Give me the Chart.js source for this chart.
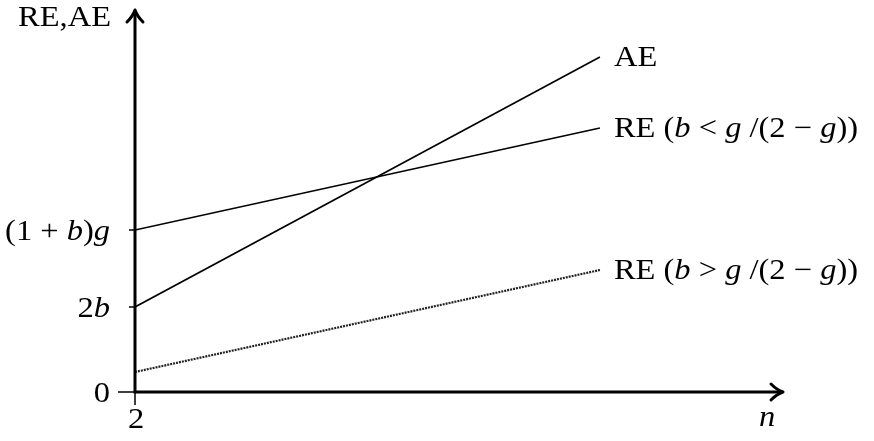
<!DOCTYPE html>
<html>
<head>
<meta charset="utf-8">
<script src="https://cdn.jsdelivr.net/npm/chart.js@4/dist/chart.umd.min.js"></script>
<style>
  html, body { margin: 0; padding: 0; background: #fff; }
  #wrap { width: 874px; height: 441px; position: relative; }
</style>
</head>
<body>
<div id="wrap"><canvas id="c" width="874" height="441"></canvas></div>
<script>
// ---- data ----
const nValues = [2, 10];
const aeValues = [8.5, 33.5];
const reLowBValues = [16.2, 26.4];
const reHighBValues = [2.0, 12.2];
const xMin = 2, xMax = 13.15;
const yMin = 0, yMax = 38.2;
const xTickValues = [2];
const xTickLabels = ['2'];
const yTickValues = [0, 8.5, 16.2];
// rich labels: [text, italic]
const yTickLabels = [
  [['0', false]],
  [['2', false], ['b', true]],
  [['(1 + ', false], ['b', true], [')', false], ['g', true]]
];
const seriesLabels = [
  [['AE', false]],
  [['RE (', false], ['b', true], [' < ', false], ['g', true], [' /(2 \u2212 ', false], ['g', true], ['))', false]],
  [['RE (', false], ['b', true], [' > ', false], ['g', true], [' /(2 \u2212 ', false], ['g', true], ['))', false]]
];
const yAxisTitle = [['RE,AE', false]];
const xAxisTitle = [['n', true]];

const FS = 29;
const SX = 1.12;
const FAM = '"Liberation Serif", serif';

function setFont(ctx, it) {
  ctx.font = (it ? 'italic ' : '') + FS + 'px ' + FAM;
}
function richWidth(ctx, segs) {
  let w = 0;
  for (const [t, it] of segs) {
    setFont(ctx, it);
    w += ctx.measureText(t).width * SX;
  }
  return w;
}
function drawRich(ctx, segs, x, y, align) {
  const w = richWidth(ctx, segs);
  let cx = align === 'right' ? x - w : align === 'center' ? x - w / 2 : x;
  ctx.textBaseline = 'alphabetic';
  ctx.textAlign = 'left';
  ctx.fillStyle = '#000';
  for (const [t, it] of segs) {
    setFont(ctx, it);
    ctx.save();
    ctx.translate(cx, y);
    ctx.scale(SX, 1);
    ctx.fillText(t, 0, 0);
    ctx.restore();
    cx += ctx.measureText(t).width * SX;
  }
}

const axesPlugin = {
  id: 'axesPlugin',
  afterDatasetsDraw(chart) {
    const ctx = chart.ctx;
    const xs = chart.scales.x, ys = chart.scales.y;
    const x0 = xs.getPixelForValue(xMin);
    const y0 = ys.getPixelForValue(yMin);
    const xEnd = xs.getPixelForValue(xMax);
    const yEnd = ys.getPixelForValue(yMax);
    ctx.save();
    ctx.strokeStyle = '#000';
    // thin tick marks
    ctx.lineWidth = 1.5;
    ctx.beginPath();
    ctx.moveTo(x0 - 17, y0); ctx.lineTo(x0, y0);
    for (const v of yTickValues) {
      if (v === 0) continue;
      const py = ys.getPixelForValue(v);
      ctx.moveTo(x0 - 6, py); ctx.lineTo(x0, py);
    }
    for (const v of xTickValues) {
      const px = xs.getPixelForValue(v);
      ctx.moveTo(px, y0); ctx.lineTo(px, y0 + 13);
    }
    ctx.stroke();
    // axes
    ctx.lineWidth = 3;
    ctx.lineCap = 'butt';
    ctx.beginPath();
    ctx.moveTo(x0, y0 + 1.5); ctx.lineTo(x0, yEnd + 2);
    ctx.moveTo(x0 - 1.5, y0); ctx.lineTo(xEnd - 2, y0);
    ctx.stroke();
    // arrowheads
    ctx.lineWidth = 3;
    ctx.lineCap = 'round';
    ctx.lineJoin = 'round';
    ctx.beginPath();
    ctx.moveTo(xEnd - 12, y0 - 8);
    ctx.quadraticCurveTo(xEnd - 6, y0 - 2, xEnd, y0);
    ctx.quadraticCurveTo(xEnd - 6, y0 + 2, xEnd - 12, y0 + 8);
    ctx.moveTo(x0 - 8, yEnd + 12);
    ctx.quadraticCurveTo(x0 - 2, yEnd + 6, x0, yEnd);
    ctx.quadraticCurveTo(x0 + 2, yEnd + 6, x0 + 8, yEnd + 12);
    ctx.stroke();
    // tick labels
    yTickValues.forEach((v, i) => {
      const py = ys.getPixelForValue(v);
      drawRich(ctx, yTickLabels[i], x0 - 25, py + 10, 'right');
    });
    xTickValues.forEach((v, i) => {
      const px = xs.getPixelForValue(v);
      drawRich(ctx, [[xTickLabels[i], false]], px + 1, y0 + 36, 'center');
    });
    // axis titles
    drawRich(ctx, yAxisTitle, x0 - 24, yEnd + 16, 'right');
    drawRich(ctx, xAxisTitle, xEnd - 16, y0 + 34, 'center');
    // series end labels
    chart.data.datasets.forEach((ds, i) => {
      const meta = chart.getDatasetMeta(i);
      const last = meta.data[meta.data.length - 1];
      drawRich(ctx, seriesLabels[i], last.x + 14, last.y + 9, 'left');
    });
    ctx.restore();
  }
};

const toPts = (ys) => nValues.map((n, i) => ({ x: n, y: ys[i] }));

new Chart(document.getElementById('c'), {
  type: 'line',
  data: {
    datasets: [
      { data: toPts(aeValues), borderColor: '#000', borderWidth: 1.6, pointRadius: 0, tension: 0 },
      { data: toPts(reLowBValues), borderColor: '#000', borderWidth: 1.6, pointRadius: 0, tension: 0 },
      { data: toPts(reHighBValues), borderColor: '#222', borderWidth: 2.2, borderDash: [2, 1], pointRadius: 0, tension: 0 }
    ]
  },
  options: {
    responsive: false,
    animation: false,
    events: [],
    layout: { padding: { left: 135, right: 91, top: 10, bottom: 49 } },
    plugins: { legend: { display: false }, tooltip: { enabled: false } },
    scales: {
      x: { type: 'linear', min: xMin, max: xMax, display: false },
      y: { type: 'linear', min: yMin, max: yMax, display: false }
    }
  },
  plugins: [axesPlugin]
});
</script>
</body>
</html>
